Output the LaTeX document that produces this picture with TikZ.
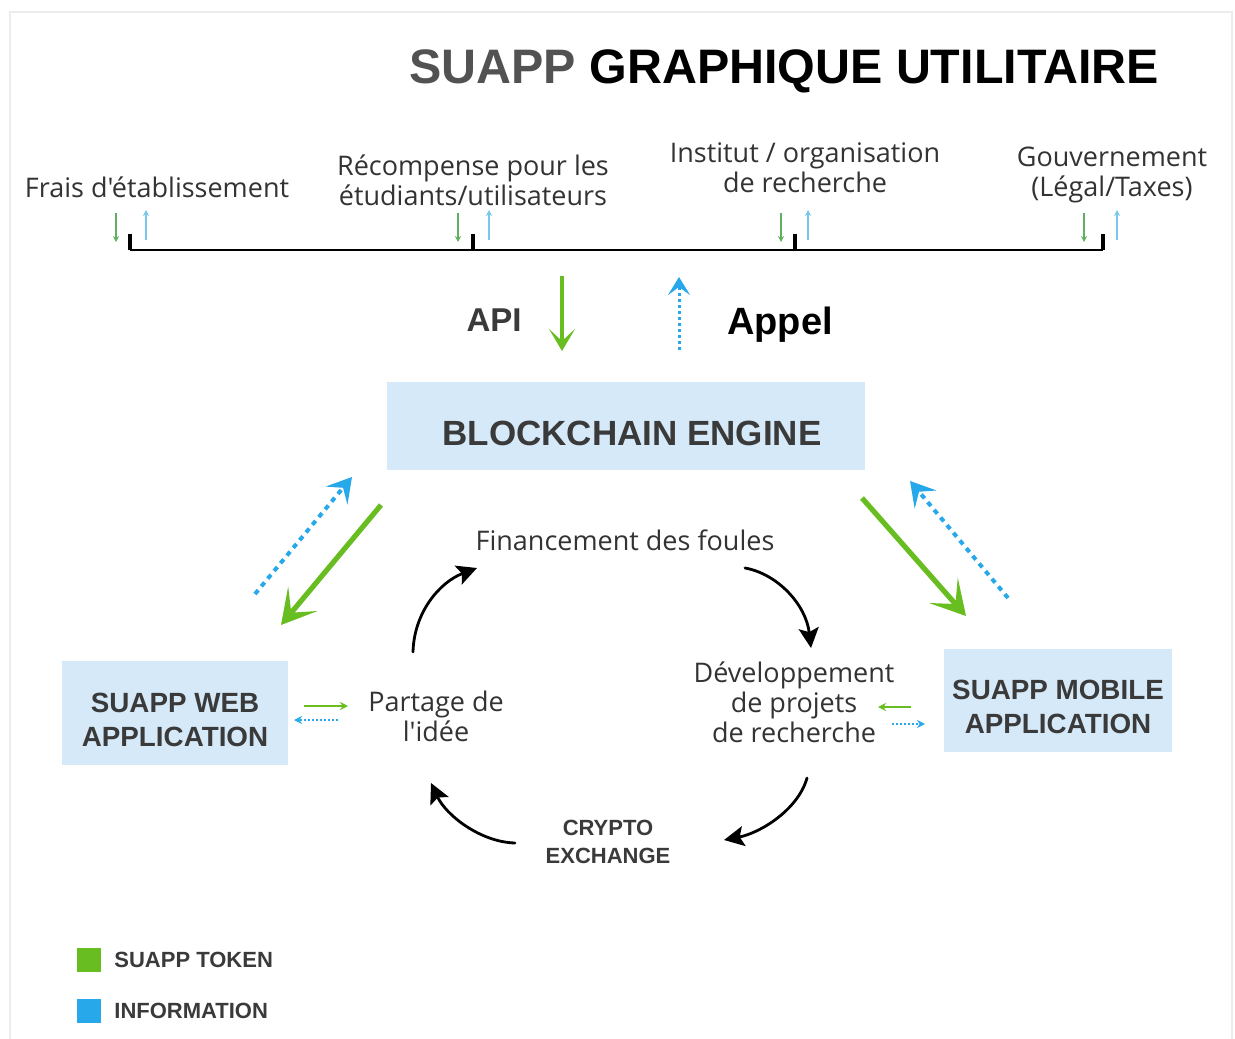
\documentclass[tikz,border=0pt]{standalone}
\usepackage{fontspec}
\setmainfont{Open Sans}[Ligatures=TeXOff]
\newfontfamily\boldsans{Liberation Sans}
\usetikzlibrary{arrows.meta}
\definecolor{tokgreen}{RGB}{104,190,32}
\definecolor{infoblue}{RGB}{38,168,234}
\definecolor{boxblue}{RGB}{214,233,248}
\definecolor{darktxt}{RGB}{58,58,58}
\definecolor{smallgreen}{RGB}{96,176,96}
\definecolor{smallblue}{RGB}{120,200,236}
\definecolor{framegray}{RGB}{236,236,236}
\begin{document}
\begin{tikzpicture}[x=0.5pt,y=-0.5pt,
  lbl/.style={font=\fontsize{13.5}{15}\selectfont, text=black!80, align=center, inner sep=0pt},
  blbl/.style={font=\boldsans\bfseries\fontsize{13.9}{17}\selectfont, text=darktxt, align=center, inner sep=0pt},
  appbox/.style={fill=boxblue, inner sep=0pt},
  tinygreen/.style={draw=smallgreen, line width=0.6pt, -{Stealth[length=3pt,width=3pt]}},
  tinyblue/.style={draw=smallblue, line width=0.6pt, -{Stealth[length=3pt,width=3pt]}},
  bigtoken/.style={draw=tokgreen, line width=2.6pt, -{Stealth[length=17pt,width=19pt,inset=9pt]}},
  biginfo/.style={draw=infoblue, line width=2pt, dash pattern=on 2.5pt off 2.5pt, -{Stealth[length=12pt,width=14pt,inset=5pt]}},
  cyc/.style={draw=black, line width=1.4pt, line cap=round, -{Stealth[length=10pt,width=10pt,inset=2pt]}},
  sidegreen/.style={draw=tokgreen, line width=0.8pt, -{Stealth[length=4pt,width=4pt]}},
  sideblue/.style={draw=infoblue, line width=0.8pt, dash pattern=on 1pt off 1pt, -{Stealth[length=4pt,width=4pt]}},
  tickline/.style={draw=black, line width=1.3pt}
]
\useasboundingbox (0,0) rectangle (1235,1038);
\fill[white] (0,0) rectangle (1235,1038);
\draw[framegray, line width=1.2pt] (10,1060) -- (10,12) -- (1232,12) -- (1232,1060);

% title
\node[font=\boldsans\bfseries\fontsize{24.2}{28}\selectfont, inner sep=0pt] (title) at (784,71)
  {\textcolor{black!68}{SUAPP} GRAPHIQUE UTILITAIRE};

% top labels
\node[lbl] (frais) at (157,187) {Frais d'établissement};
\node[lbl] (recomp) at (473,180) {Récompense pour les\\étudiants/utilisateurs};
\node[lbl] (instit) at (805,168) {Institut / organisation\\de recherche};
\node[lbl] (gouv) at (1112,175) {Gouvernement\\(Légal/Taxes)};

% bar and ticks
\coordinate (b1) at (130,250);
\coordinate (b2) at (473,250);
\coordinate (b3) at (795,250);
\coordinate (b4) at (1103,250);
\coordinate (t1) at (130,234);
\coordinate (t2) at (473,234);
\coordinate (t3) at (795,234);
\coordinate (t4) at (1103,234);
\draw[tickline] (b1) -- (b4);
\foreach \i in {1,2,3,4} \draw[tickline, line width=1.6pt] (b\i) -- (t\i);

% tiny arrows
\foreach \name/\gx/\bx in {a/116/146, b/458/489, c/781/808, d/1084/1117}{
  \coordinate (g\name s) at (\gx,213);
  \coordinate (g\name e) at (\gx,242);
  \coordinate (u\name s) at (\bx,240);
  \coordinate (u\name e) at (\bx,210);
  \draw[tinygreen] (g\name s) -- (g\name e);
  \draw[tinyblue] (u\name s) -- (u\name e);
}

% API / Appel
\node[font=\boldsans\bfseries\fontsize{16.5}{19}\selectfont, text=darktxt, inner sep=0pt] (api) at (494,320) {API};
\node[font=\boldsans\bfseries\fontsize{19}{22}\selectfont, text=black, inner sep=0pt] (appel) at (780,325) {Appel};

% blockchain engine
\node[appbox, minimum width=239pt, minimum height=44pt] (engine) at (626,426) {};
\node[font=\boldsans\bfseries\fontsize{17.5}{20}\selectfont, text=darktxt, inner sep=0pt] (enginetxt) at (632,433) {BLOCKCHAIN ENGINE};

\coordinate (apis) at (562,276);
\coordinate (apie) at (562,351);
\coordinate (apps) at (679,350);
\coordinate (appe) at (679,277);
\draw[draw=tokgreen, line width=1.6pt, -{Stealth[length=11pt,width=13pt,inset=6pt]}] (apis) -- (apie);
\draw[draw=infoblue, line width=1.5pt, dash pattern=on 1.5pt off 1.5pt, -{Stealth[length=9pt,width=11pt,inset=4pt]}] (apps) -- (appe);

% app boxes
\node[appbox, minimum width=113pt, minimum height=52pt] (web) at (175,713) {};
\node[blbl] (webtxt) at (175,720) {SUAPP WEB\\APPLICATION};
\node[appbox, minimum width=114pt, minimum height=51.5pt] (mobile) at (1058,700.5) {};
\node[blbl] (mobiletxt) at (1058,707) {SUAPP MOBILE\\APPLICATION};

% big diagonal arrows
\coordinate (lbs) at (255,594);
\coordinate (lbe) at (352,477);
\coordinate (lgs) at (381,505);
\coordinate (lge) at (281,625);
\coordinate (rgs) at (862,498);
\coordinate (rge) at (966,616);
\coordinate (rbs) at (1008,598);
\coordinate (rbe) at (910,481);
\draw[biginfo] (lbs) -- (lbe);
\draw[bigtoken] (lgs) -- (lge);
\draw[bigtoken] (rgs) -- (rge);
\draw[biginfo] (rbs) -- (rbe);

% cycle labels
\node[lbl] (fin) at (625,540) {Financement des foules};
\node[lbl] (partage) at (436,716) {Partage de\\l'idée};
\node[lbl] (dev) at (794,702) {Développement\\de projets\\de recherche};
\node[font=\boldsans\bfseries\fontsize{11}{14}\selectfont, text=darktxt, align=center, inner sep=0pt] (crypto) at (608,842) {CRYPTO\\EXCHANGE};

% cycle arrows
\coordinate (c1s) at (413,652);
\coordinate (c1e) at (477,568);
\coordinate (c2s) at (745,568);
\coordinate (c2e) at (811,648);
\coordinate (c3s) at (807,778);
\coordinate (c3e) at (724,840);
\coordinate (c4s) at (515,843);
\coordinate (c4e) at (431,783);
\draw[cyc] (c1s) .. controls (414,612) and (440,582) .. (c1e);
\draw[cyc] (c2s) .. controls (778,574) and (806,605) .. (c2e);
\draw[cyc] (c3s) .. controls (798,810) and (760,833) .. (c3e);
\draw[cyc] (c4s) .. controls (480,842) and (446,815) .. (c4e);

% side arrows
\coordinate (wgs) at (304,706);
\coordinate (wge) at (348,706);
\coordinate (wbs) at (338,720);
\coordinate (wbe) at (294,720);
\coordinate (mgs) at (911,707);
\coordinate (mge) at (878,707);
\coordinate (mbs) at (892,724);
\coordinate (mbe) at (925,724);
\draw[sidegreen] (wgs) -- (wge);
\draw[sideblue] (wbs) -- (wbe);
\draw[sidegreen] (mgs) -- (mge);
\draw[sideblue] (mbs) -- (mbe);

% legend
\node[fill=tokgreen, minimum size=12pt, inner sep=0pt] (legg) at (89,960) {};
\node[fill=infoblue, minimum size=12pt, inner sep=0pt] (legb) at (89,1011) {};
\node[font=\boldsans\bfseries\fontsize{11}{13}\selectfont, text=darktxt, anchor=west, inner sep=0pt] (legtok) at (114,960) {SUAPP TOKEN};
\node[font=\boldsans\bfseries\fontsize{11}{13}\selectfont, text=darktxt, anchor=west, inner sep=0pt] (leginf) at (114,1011) {INFORMATION};
\end{tikzpicture}
\end{document}
